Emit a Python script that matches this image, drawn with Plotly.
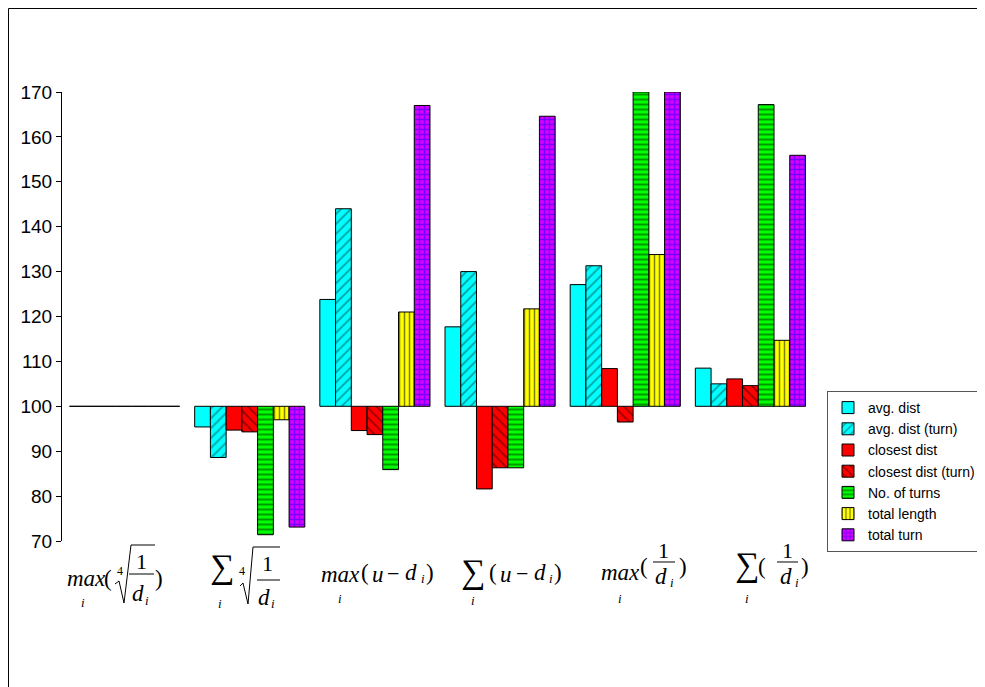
import plotly.graph_objects as go

# ---------------- data ----------------
categories = ["max4root", "sum4root", "maxudi", "sumudi", "max1d", "sum1d"]
series_names = ["avg. dist", "avg. dist (turn)", "closest dist", "closest dist (turn)",
                "No. of turns", "total length", "total turn"]
avg_dist = [100, 95.4, 123.8, 117.7, 127.1, 108.5]
avg_dist_turn = [100, 88.6, 144.0, 130.0, 131.3, 105.0]
closest_dist = [100, 94.7, 94.6, 81.6, 108.4, 106.1]
closest_dist_turn = [100, 94.3, 93.7, 86.3, 96.5, 104.6]
no_of_turns = [100, 71.4, 85.9, 86.3, 170.0, 167.2]
total_length = [100, 97.0, 121.0, 121.7, 133.8, 114.7]
total_turn = [100, 73.1, 167.0, 164.6, 170.0, 155.9]
y_ticks = [70, 80, 90, 100, 110, 120, 130, 140, 150, 160, 170]
baseline = 100

series_values = [avg_dist, avg_dist_turn, closest_dist, closest_dist_turn,
                 no_of_turns, total_length, total_turn]

# ---------------- styles ----------------
styles = [
    dict(color="#00ffff", shape="", fg="#000000", size=8, sol=0.3),
    dict(color="#00ffff", shape="/", fg="#004444", size=7, sol=0.25),
    dict(color="#ff0000", shape="", fg="#000000", size=8, sol=0.3),
    dict(color="#ff0000", shape="\\", fg="#330000", size=7, sol=0.25),
    dict(color="#00ff00", shape="-", fg="#003300", size=5, sol=0.4),
    dict(color="#ffff00", shape="|", fg="#000000", size=5, sol=0.3),
    dict(color="#dd00ff", shape="+", fg="#1a00ff", size=5, sol=0.5),
]

OFF = 8  # page body margin
W, H = 985 - OFF, 687 - OFF
PL, PR, PT, PB = 62 - OFF, 813 - OFF, 92 - OFF, 541 - OFF
ML, MR, MT, MB = PL, W - PR, PT, H - PB


def px(x):
    return (x - OFF - PL) / (PR - PL)


def py(y):
    return (PB - (y - OFF)) / (PB - PT)


fig = go.Figure()
for name, vals, st in zip(series_names, series_values, styles):
    fig.add_trace(go.Bar(
        name=name,
        x=categories,
        y=[v - baseline for v in vals],
        base=baseline,
        marker=dict(
            color=st["color"],
            line=dict(color="#000000", width=1),
            pattern=dict(shape=st["shape"], fgcolor=st["fg"], bgcolor=st["color"],
                         size=st["size"], solidity=st["sol"]),
        ),
    ))

# ---------------- category labels (math text) ----------------
SERIF = "Liberation Serif"
pieces = [
    # label 1
    ("<i>max</i>", 86, 578, 23), ("<i>i</i>", 83, 602, 13), ("(", 108, 578, 23),
    ("4", 120, 571, 12), ("1", 141, 561, 22), ("<i>d</i>", 138, 593, 23),
    ("<i>i</i>", 147, 600, 13), (")", 159, 578, 23),
    # label 2
    ("∑", 222, 567, 34), ("<i>i</i>", 220, 603, 13), ("4", 242, 571, 12),
    ("1", 267, 563, 22), ("<i>d</i>", 264, 597, 23), ("<i>i</i>", 273, 603, 13),
    # label 3
    ("<i>max</i>", 340, 574, 23), ("<i>i</i>", 340, 598, 13), ("(", 365, 572, 23),
    ("<i>u</i>", 378, 574, 23), ("−", 393, 573, 22), ("<i>d</i>", 411, 572, 23),
    ("<i>i</i>", 423, 578, 13), (")", 430, 572, 23),
    # label 4
    ("∑", 473, 572, 34), ("<i>i</i>", 473, 600, 13), ("(", 493, 572, 23),
    ("<i>u</i>", 506, 574, 23), ("−", 522, 573, 22), ("<i>d</i>", 540, 572, 23),
    ("<i>i</i>", 551, 578, 13), (")", 558, 572, 23),
    # label 5
    ("<i>max</i>", 620, 572, 23), ("<i>i</i>", 620, 598, 13), ("(", 644, 566, 23),
    ("1", 663, 550, 22), ("<i>d</i>", 661, 576, 23), ("<i>i</i>", 672, 582, 13),
    (")", 683, 566, 23),
    # label 6
    ("∑", 747, 565, 34), ("<i>i</i>", 747, 598, 13), ("(", 762, 566, 23),
    ("1", 787, 550, 22), ("<i>d</i>", 786, 576, 23), ("<i>i</i>", 797, 582, 13),
    (")", 805, 566, 23),
]
for txt, x, y, s in pieces:
    fig.add_annotation(text=txt, x=px(x), y=py(y), xref="paper", yref="paper",
                       xanchor="center", yanchor="middle", showarrow=False,
                       font=dict(family=SERIF, size=s, color="#000000"))

strokes = [
    [(129, 574), (154, 574)],
    [(115, 584), (119, 581), (124, 603), (131, 545), (155, 545)],
    [(257, 580), (280, 580)],
    [(240, 586), (243, 583), (248, 604), (253, 547), (280, 547)],
    [(653, 562), (675, 562)],
    [(777, 562), (798, 562)],
    # outer frame (as close to the page edge as the page allows)
    [(8.5, 687), (8.5, 8.5), (985, 8.5)],
]
for pts in strokes:
    path = "M " + " L ".join(f"{px(a):.5f},{py(b):.5f}" for a, b in pts)
    fig.add_shape(type="path", path=path, xref="paper", yref="paper",
                  line=dict(color="#000000", width=1))

fig.update_layout(
    width=W, height=H,
    margin=dict(l=ML, r=MR, t=MT, b=MB, autoexpand=False),
    paper_bgcolor="white", plot_bgcolor="white",
    barmode="group", bargap=0.12, bargroupgap=0,
    font=dict(family="Liberation Sans", color="#000000"),
    showlegend=True,
    legend=dict(
        x=px(827), y=py(391), xanchor="left", yanchor="top",
        bgcolor="white", bordercolor="#555555", borderwidth=1,
        font=dict(family="Liberation Sans", size=14, color="#000000"),
        traceorder="normal",
    ),
    xaxis=dict(showticklabels=False, showline=False, ticks="", showgrid=False,
               zeroline=False),
    yaxis=dict(range=[70, 170], tickvals=y_ticks, ticks="outside", ticklen=5,
               showline=True, linecolor="#000000", linewidth=1, tickcolor="#000000",
               showgrid=False, zeroline=False,
               tickfont=dict(family="Liberation Sans", size=19, color="#000000")),
)

fig.write_html("out.html")
